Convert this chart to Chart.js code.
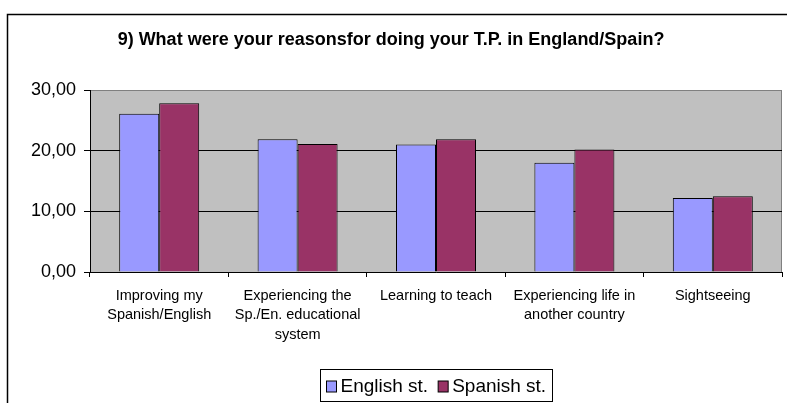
<!DOCTYPE html>
<html>
<head>
<meta charset="utf-8">
<script src="https://cdn.jsdelivr.net/npm/chart.js@4/dist/chart.umd.min.js"></script>
<style>
html,body{margin:0;padding:0;background:#fff;}
#wrap{width:787px;height:403px;position:relative;}
</style>
</head>
<body>
<div id="wrap"><canvas id="c" width="787" height="403"></canvas></div>
<script>
const titleText = "9) What were your reasonsfor doing your T.P. in England/Spain?";
const categories = [
  ["Improving my", "Spanish/English"],
  ["Experiencing the", "Sp./En. educational", "system"],
  ["Learning to teach"],
  ["Experiencing life in", "another country"],
  ["Sightseeing"]
];
const seriesNames = ["English st.", "Spanish st."];
const englishValues = [26.1, 21.9, 21.0, 18.0, 12.2];
const spanishValues = [27.8, 21.1, 21.9, 20.2, 12.5];
const yTicks = [0, 10, 20, 30];

const FONT = "'Liberation Sans', Arial, sans-serif";

const frameAndPlot = {
  id: 'frameAndPlot',
  beforeDraw(chart) {
    const ctx = chart.ctx, a = chart.chartArea;
    ctx.save();
    ctx.fillStyle = '#fff';
    ctx.fillRect(0, 0, chart.width, chart.height);
    ctx.strokeStyle = '#000';
    ctx.lineWidth = 1.5;
    ctx.strokeRect(7.5, 14.5, 900, 500);
    ctx.fillStyle = '#C0C0C0';
    ctx.fillRect(a.left, a.top, a.right - a.left, a.bottom - a.top);
    ctx.strokeStyle = '#808080';
    ctx.lineWidth = 1;
    ctx.strokeRect(Math.round(a.left) + 0.5, Math.round(a.top) + 0.5, Math.round(a.right - a.left) - 1, Math.round(a.bottom - a.top));
    ctx.restore();
  },
  afterDraw(chart) {
    const ctx = chart.ctx, a = chart.chartArea;
    ctx.save();
    ctx.font = "19px " + FONT;
    ctx.textBaseline = 'middle';
    const mk = 10, gapMk = 4, gapItem = 10, padX = 6;
    const items = chart.data.datasets.map(ds => ({label: ds.label, color: ds.backgroundColor, w: ctx.measureText(ds.label).width}));
    let total = padX * 2;
    items.forEach((it, i) => { total += mk + gapMk + it.w + (i < items.length - 1 ? gapItem : 0); });
    const cx = (a.left + a.right) / 2;
    const bx = Math.round(cx - total / 2) + 0.5, by = 369.5, bh = 32;
    ctx.strokeStyle = '#000';
    ctx.lineWidth = 1;
    ctx.fillStyle = '#fff';
    ctx.fillRect(bx, by, total, bh);
    ctx.strokeRect(bx, by, Math.round(total), bh);
    let x = bx + padX;
    const ty = by + bh / 2 + 1;
    items.forEach(it => {
      ctx.fillStyle = it.color;
      ctx.fillRect(x, ty - mk / 2 - 0.5, mk, mk + 1);
      ctx.strokeStyle = '#000';
      ctx.strokeRect(x, ty - mk / 2 - 0.5, mk, mk + 1);
      x += mk + gapMk;
      ctx.fillStyle = '#000';
      ctx.fillText(it.label, x, ty);
      x += it.w + gapItem;
    });
    ctx.restore();
  }
};

new Chart(document.getElementById('c'), {
  type: 'bar',
  data: {
    labels: categories,
    datasets: [
      {label: seriesNames[0], data: englishValues, backgroundColor: '#9999FF', borderColor: '#000', borderWidth: 1},
      {label: seriesNames[1], data: spanishValues, backgroundColor: '#993366', borderColor: '#000', borderWidth: 1}
    ]
  },
  options: {
    responsive: false,
    animation: false,
    layout: {padding: {left: 0, right: 5, top: 0, bottom: 0}},
    datasets: {bar: {categoryPercentage: 0.578, barPercentage: 1.0, borderSkipped: 'start'}},
    plugins: {
      legend: {display: false},
      tooltip: {enabled: false},
      title: {
        display: true,
        text: titleText,
        color: '#000',
        font: {family: FONT, size: 18, weight: 'bold'},
        padding: {top: 29, bottom: 39.4}
      }
    },
    scales: {
      x: {
        grid: {display: true, offset: true, drawOnChartArea: false, drawTicks: true, tickLength: 5, color: '#000', tickColor: '#000'},
        border: {display: true, color: '#000', width: 1},
        ticks: {color: '#000', font: {family: FONT, size: 14.5, lineHeight: 1.35}, padding: 9, maxRotation: 0, autoSkip: false},
        afterFit(s) { s.height = 131; }
      },
      y: {
        min: 0, max: 30,
        afterBuildTicks(s) { s.ticks = yTicks.map(v => ({value: v})); },
        grid: {
          drawTicks: true, tickLength: 6,
          color: c => (c.tick && c.tick.value === 30) ? '#808080' : (c.tick && c.tick.value === 0 ? 'rgba(0,0,0,0)' : '#000'),
          tickColor: '#000'
        },
        border: {display: true, color: '#000', width: 1},
        ticks: {color: '#000', font: {family: FONT, size: 18}, padding: 8, callback: v => Number(v).toFixed(2).replace('.', ',')},
        afterFit(s) { s.width = 90; }
      }
    }
  },
  plugins: [frameAndPlot]
});
</script>
</body>
</html>
